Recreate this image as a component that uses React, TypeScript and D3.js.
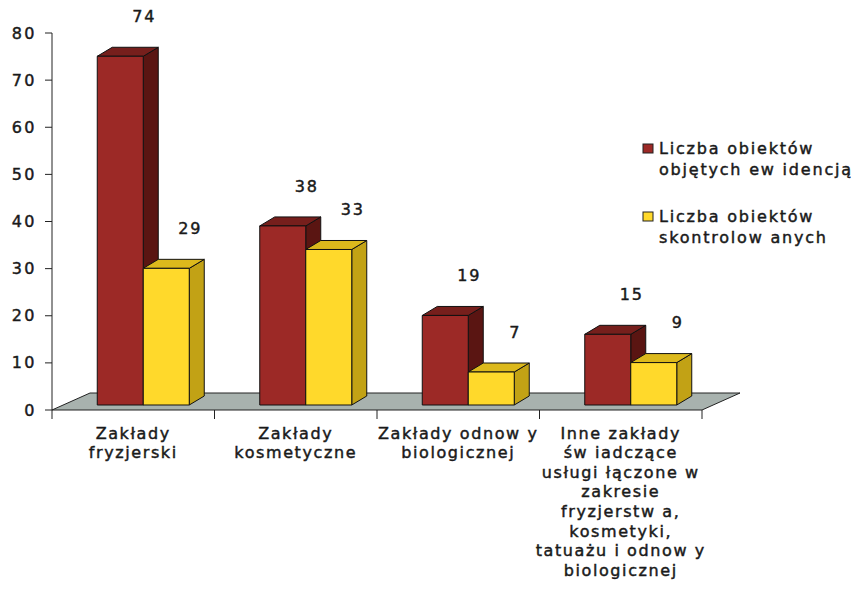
import React from 'react';
import * as d3 from 'd3';

const categories = [
  ['Zakłady', 'fryzjerski'],
  ['Zakłady', 'kosmetyczne'],
  ['Zakłady odnow y', 'biologicznej'],
  ['Inne zakłady', 'św iadczące', 'usługi łączone w', 'zakresie', 'fryzjerstw a,', 'kosmetyki,', 'tatuażu i odnow y', 'biologicznej'],
];
const seriesNames = [
  ['Liczba obiektów', 'objętych ew idencją'],
  ['Liczba obiektów', 'skontrolow anych'],
];
const evidenced = [74, 38, 19, 15];
const inspected = [29, 33, 7, 9];
const yTicks = [0, 10, 20, 30, 40, 50, 60, 70, 80];

const W = 852;
const H = 593;
const font = '"DejaVu Sans", Arial, sans-serif';
const ink = '#1a1a1a';

// face colours: front, side, top
const palette = [
  {front: '#9c2926', side: '#5a1512', top: '#761f1c'},
  {front: '#ffd92b', side: '#c2a215', top: '#dcb91c'},
];

// slightly heavier text, like the scanned original
const txt = {fontSize: 16, fill: ink, stroke: ink, strokeWidth: 0.45};

export default function App() {
  const left = 52, right = 702, base = 410;
  const y = d3.scaleLinear().domain([0, 80]).range([base, 33]);
  const x = d3.scaleBand<number>().domain(d3.range(categories.length)).range([left, right]);
  const inner = d3.scaleBand<number>().domain([0, 1]).range([0, 92]);

  // 3D settings
  const depth = {dx: 15, dy: -9};
  const shift = {dx: 10, dy: -5};
  const floor = {dx: 38, dy: -17};

  const series = [evidenced, inspected];

  const bars: React.ReactNode[] = [];
  categories.forEach((_, ci) => {
    const cx = x(ci)! + x.bandwidth() / 2 + shift.dx;
    series.forEach((vals, si) => {
      const v = vals[ci];
      const x0 = cx - 46 + inner(si)!;
      const x1 = x0 + inner.bandwidth();
      const y0 = base + shift.dy;
      const y1 = y(v) + shift.dy;
      const c = palette[si];
      const side = [[x1, y0], [x1 + depth.dx, y0 + depth.dy], [x1 + depth.dx, y1 + depth.dy], [x1, y1]];
      const top = [[x0, y1], [x0 + depth.dx, y1 + depth.dy], [x1 + depth.dx, y1 + depth.dy], [x1, y1]];
      bars.push(
        <g key={`b${ci}-${si}`} stroke="#111" strokeWidth={1} strokeLinejoin="round">
          <polygon points={side.join(' ')} fill={c.side} />
          <polygon points={top.join(' ')} fill={c.top} />
          <rect x={x0} y={y1} width={x1 - x0} height={y0 - y1} fill={c.front} />
        </g>
      );
      bars.push(
        <text key={`l${ci}-${si}`} x={(x0 + x1) / 2 + 24} y={y1 - 40} dy="0.35em"
          textAnchor="middle" letterSpacing={1.8} {...txt}>{v}</text>
      );
    });
  });

  const floorPts = [
    [left, base], [right, base], [right + floor.dx, base + floor.dy], [left + floor.dx, base + floor.dy],
  ];

  return (
    <svg width={W} height={H} style={{position: 'absolute', left: 0, top: 0, background: '#fff'}}
      fontFamily={font}>
      <polygon points={floorPts.join(' ')} fill="#a8b2ae" stroke="#222" strokeWidth={1} />
      {/* y axis */}
      <line x1={left} x2={left} y1={y(80)} y2={base} stroke="#222" />
      {yTicks.map(t => (
        <g key={t}>
          <line x1={left - 7} x2={left} y1={y(t)} y2={y(t)} stroke="#222" />
          <text x={left - 15} y={y(t)} dy="0.35em" textAnchor="end" letterSpacing={2.5} {...txt}>{t}</text>
        </g>
      ))}
      {/* x ticks */}
      {d3.range(categories.length + 1).map(i => {
        const tx = left + i * x.bandwidth();
        return <line key={i} x1={tx} x2={tx} y1={base} y2={base + 9} stroke="#222" />;
      })}
      {bars}
      {categories.map((lines, ci) => (
        <text key={ci} x={x(ci)! + x.bandwidth() / 2} y={433} textAnchor="middle"
          letterSpacing={1.6} {...txt}>
          {lines.map((ln, li) => (
            <tspan key={li} x={x(ci)! + x.bandwidth() / 2} y={433 + li * 19.6} dy="0.35em">{ln}</tspan>
          ))}
        </text>
      ))}
      {/* legend */}
      {seriesNames.map((lines, si) => {
        const ly = 149 + si * 68;
        return (
          <g key={si}>
            <rect x={643} y={ly - 5} width={10} height={9} fill={palette[si].front} stroke="#222" />
            {lines.map((ln, li) => (
              <text key={li} x={659} y={ly - 1 + li * 21} dy="0.35em" letterSpacing={1.8} {...txt}>{ln}</text>
            ))}
          </g>
        );
      })}
    </svg>
  );
}
